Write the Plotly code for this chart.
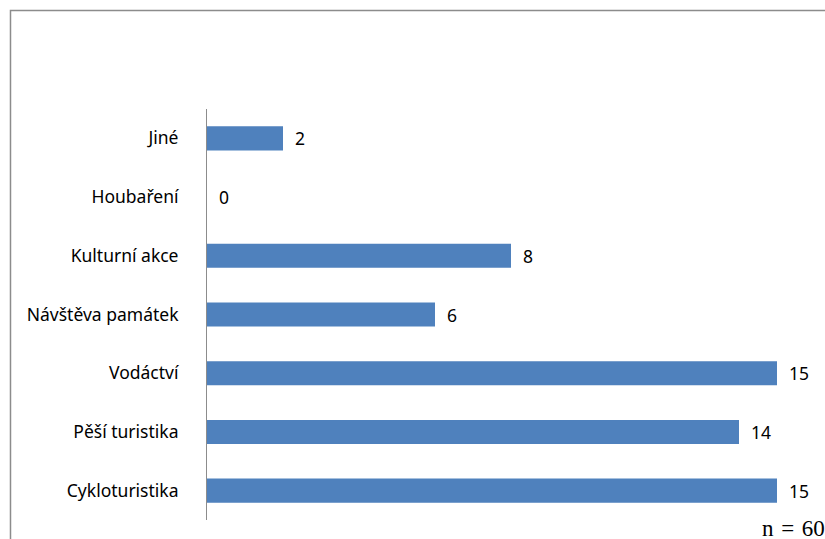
import plotly.graph_objects as go

# Survey: preferred leisure activities (number of respondents)
categories = ["Cykloturistika", "Pěší turistika", "Vodáctví", "Návštěva památek",
              "Kulturní akce", "Houbaření", "Jiné"]
counts = [15, 14, 15, 6, 8, 0, 2]
sample_note = "n\u2004=\u200460"

BAR_COLOR = "#4F81BD"
FONT = "Noto Sans"
FONT_SIZE = 17.5

fig = go.Figure()
fig.add_trace(go.Bar(
    y=categories,
    x=counts,
    orientation="h",
    marker=dict(color=BAR_COLOR, line=dict(width=0)),
    width=0.41,
    hoverinfo="skip",
))

# value labels to the right of each bar
for cat, val in zip(categories, counts):
    fig.add_annotation(
        x=val, y=cat, xref="x", yref="y",
        text=str(val), showarrow=False,
        xanchor="left", yanchor="middle", xshift=10,
        font=dict(family=FONT, size=FONT_SIZE, color="#000000"),
    )

# sample-size note in the lower right corner
fig.add_annotation(
    x=0.91, y=-0.02, xref="paper", yref="paper",
    text=sample_note, showarrow=False,
    xanchor="left", yanchor="middle",
    font=dict(family="Liberation Serif", size=23, color="#000000"),
)

# outer chart frame
fig.add_shape(
    type="rect", xref="paper", yref="paper",
    x0=-0.3232, x1=1.2, y0=-0.2, y1=1.2397,
    line=dict(color="#8c8c8c", width=1.5),
    fillcolor="rgba(0,0,0,0)", layer="below",
)

fig.update_layout(
    width=825, height=539,
    margin=dict(l=207, r=10, t=109, b=19),
    paper_bgcolor="white", plot_bgcolor="white",
    showlegend=False,
    xaxis=dict(range=[0, 16], visible=False, fixedrange=True),
    yaxis=dict(
        categoryorder="array", categoryarray=categories,
        range=[-0.5, 6.5],
        showline=True, linecolor="#8c8c8c", linewidth=1,
        showgrid=False, zeroline=False, ticks="",
        ticklabelstandoff=24,
        tickfont=dict(family=FONT, size=FONT_SIZE, color="#000000"),
        fixedrange=True,
    ),
)

fig.write_html("out.html")
